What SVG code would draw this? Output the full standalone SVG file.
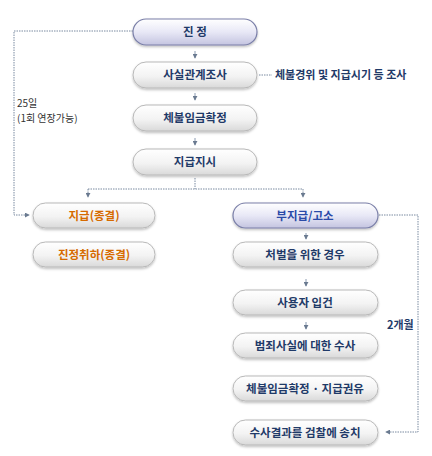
<svg xmlns="http://www.w3.org/2000/svg" width="432" height="456" viewBox="0 0 432 456">
<defs>
<linearGradient id="gGray" x1="0" y1="0" x2="0" y2="1">
<stop offset="0" stop-color="#ffffff"/><stop offset="0.55" stop-color="#f3f3f3"/><stop offset="1" stop-color="#d9d9d9"/>
</linearGradient>
<linearGradient id="gBlue" x1="0" y1="0" x2="0" y2="1">
<stop offset="0" stop-color="#ffffff"/><stop offset="0.5" stop-color="#e8e8f6"/><stop offset="1" stop-color="#c4c4e0"/>
</linearGradient>
<filter id="sh" x="-10%" y="-30%" width="120%" height="170%">
<feDropShadow dx="0" dy="1.5" stdDeviation="1.2" flood-color="#000" flood-opacity="0.25"/>
</filter>
<marker id="ah" viewBox="0 0 6 6" refX="5" refY="3" markerWidth="5" markerHeight="5" orient="auto">
<path d="M0,0 L6,3 L0,6 z" fill="#6a7a90"/>
</marker>
</defs>
<style>
.p{fill:url(#gGray);stroke:#b8b8b8;stroke-width:1;filter:url(#sh)}
.pb{fill:url(#gBlue);stroke:#7a7fa8;stroke-width:1.2;filter:url(#sh)}
.t{font-family:"Noto Sans CJK KR","Noto Sans",sans-serif;font-size:11.5px;font-weight:bold;fill:#1f3a68;text-anchor:middle}
.to{fill:#d66a00}
.tb{fill:#2a4aa8}
.l{font-family:"Noto Sans CJK KR","Noto Sans",sans-serif;font-size:10px;fill:#333}
.lb{font-family:"Noto Sans CJK KR","Noto Sans",sans-serif;font-size:11px;font-weight:bold;fill:#1f3a68}
.d{fill:none;stroke:#7a8aa0;stroke-width:1;stroke-dasharray:1.5,1}
.a{fill:none;stroke:#8a9ab0;stroke-width:1}
</style>
<rect width="432" height="456" fill="#ffffff"/>
<g id="connectors">
<line class="a" x1="195" y1="51" x2="195" y2="58" marker-end="url(#ah)"/>
<line class="a" x1="195" y1="93" x2="195" y2="100" marker-end="url(#ah)"/>
<line class="a" x1="195" y1="138" x2="195" y2="145" marker-end="url(#ah)"/>
<path class="d" d="M195,178 V189"/>
<path class="d" d="M88,189 H303"/>
<line class="d" x1="88" y1="189" x2="88" y2="197" marker-end="url(#ah)"/>
<line class="d" x1="303" y1="189" x2="303" y2="197" marker-end="url(#ah)"/>
<path class="d" d="M133,31 H14 V215 H29" marker-end="url(#ah)"/>
<path class="d" d="M379,215 H418 V432 H386" marker-end="url(#ah)"/>
<line class="a" x1="306" y1="233" x2="306" y2="239" marker-end="url(#ah)"/>
<line class="a" x1="306" y1="279" x2="306" y2="286" marker-end="url(#ah)"/>
<line class="a" x1="306" y1="322" x2="306" y2="329" marker-end="url(#ah)"/>
<path class="d" d="M259,75 H272" stroke-dasharray="2,1.5"/>
</g>
<g id="n-jinjeong"><rect class="pb" x="133" y="19" width="124" height="26" rx="13"/><text class="t" x="195" y="36">진 정</text></g>
<g id="n-sasil"><rect class="p" x="133" y="62" width="124" height="26" rx="13"/><text class="t" x="195" y="79">사실관계조사</text></g>
<text class="lb" x="275" y="79">체불경위 및 지급시기 등 조사</text>
<g id="n-hwakjeong"><rect class="p" x="133" y="105" width="124" height="26" rx="13"/><text class="t" x="195" y="122">체불임금확정</text></g>
<g id="n-jisi"><rect class="p" x="133" y="149" width="124" height="26" rx="13"/><text class="t" x="195" y="166">지급지시</text></g>
<text class="l" x="17" y="107">25일</text>
<text class="l" x="17" y="122">(1회 연장가능)</text>
<g id="n-jigeup"><rect class="p" x="33" y="203" width="122" height="25" rx="12.5"/><text class="t to" x="94" y="220">지급(종결)</text></g>
<g id="n-chwiha"><rect class="p" x="33" y="242" width="122" height="25" rx="12.5"/><text class="t to" x="94" y="259">진정취하(종결)</text></g>
<g id="n-bujigeup"><rect class="pb" x="233" y="203" width="145" height="25" rx="12.5"/><text class="t tb" x="305" y="220">부지급/고소</text></g>
<g id="n-cheobeol"><rect class="p" x="233" y="242" width="145" height="25" rx="12.5"/><text class="t" x="305" y="259">처벌을 위한 경우</text></g>
<g id="n-ipgeon"><rect class="p" x="233" y="290" width="145" height="25" rx="12.5"/><text class="t" x="305" y="307">사용자 입건</text></g>
<text class="lb" x="387" y="329">2개월</text>
<g id="n-susa"><rect class="p" x="233" y="333" width="145" height="25" rx="12.5"/><text class="t" x="305" y="350">범죄사실에 대한 수사</text></g>
<g id="n-gwonyu"><rect class="p" x="233" y="376" width="145" height="25" rx="12.5"/><text class="t" x="305" y="393">체불임금확정 · 지급권유</text></g>
<g id="n-songchi"><rect class="p" x="233" y="420" width="145" height="25" rx="12.5"/><text class="t" x="305" y="437">수사결과를 검찰에 송치</text></g>
</svg>
